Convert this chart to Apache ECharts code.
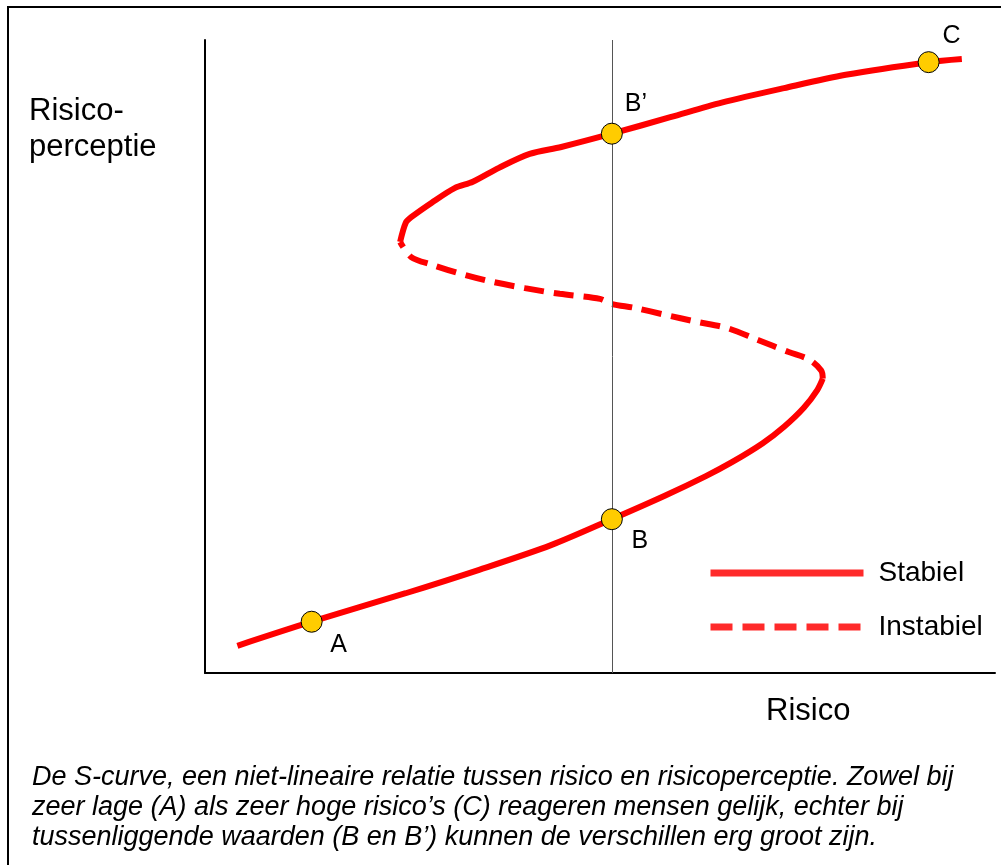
<!DOCTYPE html>
<html>
<head>
<meta charset="utf-8">
<script src="https://cdn.jsdelivr.net/npm/echarts@6/dist/echarts.min.js"></script>
<style>
html,body{margin:0;padding:0;background:#fff;}
#chart{width:1001px;height:865px;}
</style>
</head>
<body>
<div id="chart"></div>
<script>
// ---- data (x = Risico, y = Risicoperceptie, both 0..100) ----
var lowerStable = [[4.1,4.3],[13.5,8.1],[25.4,12.6],[34.7,16.3],[43.8,20.2],[51.5,24.3],[58.2,28.0],[63.4,31.1],[66.7,33.3],[70.6,36.3],[73.3,38.9],[75.8,41.9],[77.5,44.7],[78.2,46.5]];
var unstable = [[78.2,46.5],[78.0,47.8],[76.5,49.5],[73.9,50.7],[70.0,52.6],[66.1,54.5],[62.2,55.5],[58.2,56.6],[54.3,57.7],[51.5,58.3],[50.0,59.1],[44.9,59.9],[40.5,60.8],[36.0,61.9],[32.0,63.2],[28.7,64.5],[26.1,65.7],[24.7,68.1]];
var upperStable = [[24.7,68.1],[25.4,71.1],[26.1,72.0],[28.7,74.3],[31.6,76.6],[33.9,77.6],[37.2,79.8],[41.1,82.0],[45.1,83.1],[51.5,85.2],[58.9,87.8],[65.4,90.1],[73.3,92.4],[81.1,94.5],[91.6,96.5],[95.8,97.0]];
var pointNames = ['A','B','B\u2019','C'];
var pointValues = [[13.5,8.1],[51.5,24.3],[51.5,85.2],[91.6,96.5]];
var referenceX = 51.5;
var seriesNames = ['Stabiel','Instabiel'];
var xAxisName = 'Risico';
var yAxisName = 'Risico-\nperceptie';
var captionLines = [
  'De S-curve, een niet-lineaire relatie tussen risico en risicoperceptie. Zowel bij',
  'zeer lage (A) als zeer hoge risico\u2019s (C) reageren mensen gelijk, echter bij',
  'tussenliggende waarden (B en B\u2019) kunnen de verschillen erg groot zijn.'
];

// ---- styles ----
var FONT = '"Liberation Sans", Arial, Helvetica, sans-serif';
var RED = '#ff0000';
var LEGEND_RED = '#ff2a2a';
var labelOffsets = {'A':[27,23],'B':[28,22],'B\u2019':[24,-30],'C':[23,-26]};

var chart = echarts.init(document.getElementById('chart'), null, {renderer:'canvas'});

var scatterData = pointNames.map(function(n,i){
  return {name:n, value:pointValues[i], label:{offset:labelOffsets[n]}};
});

var option = {
  backgroundColor:'#fff',
  animation:false,
  grid:{left:205, right:6, top:40, bottom:192},
  xAxis:{type:'value', min:0, max:100,
    axisLine:{show:true, onZero:false, lineStyle:{color:'#000', width:2}},
    axisTick:{show:false}, axisLabel:{show:false}, splitLine:{show:false}},
  yAxis:{type:'value', min:0, max:100,
    axisLine:{show:true, onZero:false, lineStyle:{color:'#000', width:2}},
    axisTick:{show:false}, axisLabel:{show:false}, splitLine:{show:false}},
  legend:{
    orient:'vertical', left:707, top:553, padding:0,
    itemWidth:153, itemHeight:28, itemGap:14,
    itemStyle:{opacity:0},
    data:[
      {name:seriesNames[0], lineStyle:{color:LEGEND_RED, width:7, type:'solid'}},
      {name:seriesNames[1], lineStyle:{color:LEGEND_RED, width:7, type:[22,10]}}
    ],
    textStyle:{fontFamily:FONT, fontSize:28, color:'#000', lineHeight:28, padding:[0,0,12,10]}
  },
  graphic:[
    {type:'rect', shape:{x:8, y:7, width:1020, height:900}, style:{fill:'none', stroke:'#000', lineWidth:2}, silent:true},
    {type:'text', left:29, top:93, style:{text:yAxisName, font:'31px '+FONT, fill:'#000', lineHeight:36}},
    {type:'text', left:766, top:696, style:{text:xAxisName, font:'31px '+FONT, fill:'#000'}},
    {type:'text', left:32, top:762, style:{text:captionLines.join('\n'), font:'italic 27px '+FONT, fill:'#000', lineHeight:30}}
  ],
  series:[
    {name:seriesNames[0], type:'line', data:lowerStable, smooth:0.3, symbol:'none',
      lineStyle:{color:RED, width:6}, itemStyle:{color:RED}, z:3},
    {name:seriesNames[0], type:'line', data:upperStable, smooth:0.3, symbol:'none',
      lineStyle:{color:RED, width:6}, itemStyle:{color:RED}, z:3},
    {name:seriesNames[1], type:'line', data:unstable, smooth:0.3, symbol:'none',
      lineStyle:{color:RED, width:6, type:[20,10]}, itemStyle:{color:RED}, z:3},
    {name:'punten', type:'scatter', data:scatterData, symbol:'circle', symbolSize:21,
      itemStyle:{color:'#ffcc00', borderColor:'#000', borderWidth:1, opacity:1}, z:5,
      label:{show:true, position:'inside', formatter:'{b}', fontFamily:FONT, fontSize:25, color:'#000'},
      markLine:{silent:true, symbol:'none', label:{show:false},
        lineStyle:{color:'#555', width:1, type:'solid'},
        data:[{xAxis:referenceX}]}
    }
  ]
};
chart.setOption(option);
</script>
</body>
</html>
